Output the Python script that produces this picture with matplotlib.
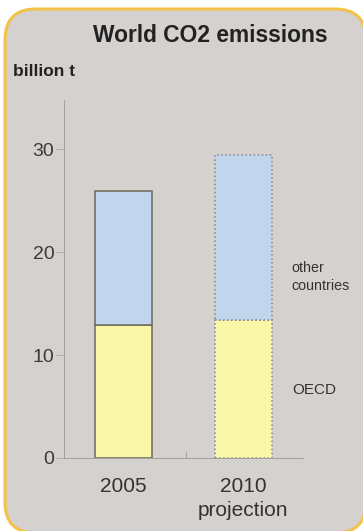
import numpy as np
import matplotlib.pyplot as plt
from matplotlib.patches import FancyBboxPatch

categories = ['2005', '2010\nprojection']
oecd = [12.9, 13.4]
other = [13.1, 16.1]
series_labels = ['OECD', 'other\ncountries']

W, H = 363, 531
fig = plt.figure(figsize=[W / 100, H / 100], dpi=100)
fig.patch.set_facecolor('white')
plt.rcParams['font.family'] = ['Liberation Sans', 'DejaVu Sans']

# rounded gold panel behind everything
panel = FancyBboxPatch((5 / W, 1 - 533 / H), 361 / W, 524 / H,
                       boxstyle='round,pad=0,rounding_size=0.085',
                       transform=fig.transFigure, facecolor='#d4d1ce',
                       edgecolor='#f4c24a', linewidth=2.2,
                       mutation_aspect=W / H, zorder=-5)
fig.patches.append(panel)

ax = fig.add_axes([64 / W, 1 - 458 / H, 239 / W, 358 / H])
ax.set_zorder(5)
ax.set_facecolor('none')

x = np.arange(len(categories))
yellow = '#fbf7a8'
blue = '#c1d5ec'
width = 0.475

# 2005: solid outline
ax.bar(x[0], oecd[0], width, color=yellow, edgecolor='#6b6a58', linewidth=1.1)
ax.bar(x[0], other[0], width, bottom=oecd[0], color=blue, edgecolor='#6b6a58', linewidth=1.1)
# 2010 projection: dotted outline
ax.bar(x[1], oecd[1], width, color=yellow, edgecolor='#7d8595', linewidth=1.1, linestyle=':')
ax.bar(x[1], other[1], width, bottom=oecd[1], color=blue, edgecolor='#7d8595', linewidth=1.1, linestyle=':')

ax.set_xlim(-0.5, 1.5)
ax.set_ylim(0, 34.8)
ax.set_yticks([0, 10, 20, 30])
ax.tick_params(axis='y', length=6, width=0.6, color='#aaa8a5', labelsize=14,
               labelcolor='#3a3a3a', pad=1)
ax.set_xticks([-0.5, 0.5, 1.5])
ax.set_xticklabels([])
ax.tick_params(axis='x', direction='in', length=0)
ax.set_xticks([-0.5, 0.5, 0.52, 1.5], minor=True)
ax.tick_params(axis='x', which='minor', direction='in', length=4, width=0.6, color='#9a9895')
for i, c in enumerate(categories):
    ax.text(x[i], -1.85, c, ha='center', va='top', fontsize=15, color='#333333',
            linespacing=1.3)

for s in ['top', 'right']:
    ax.spines[s].set_visible(False)
ax.spines['left'].set_color('#9a9895')
ax.spines['left'].set_linewidth(0.6)
ax.spines['bottom'].set_color('#9a9895')
ax.spines['bottom'].set_linewidth(0.6)

# series labels to the right of the projection bar
ax.text(1.4, oecd[1] + other[1] * 0.26, series_labels[1], ha='left', va='center',
        fontsize=10.3, color='#333333', linespacing=1.35)
ax.text(1.41, oecd[1] * 0.49, series_labels[0], ha='left', va='center',
        fontsize=11, color='#333333')

fig.text(210 / W, 1 - 36 / H, 'World CO2 emissions', ha='center', va='center',
         fontsize=16.4, fontweight='bold', color='#222222')
fig.text(13 / W, 1 - 72 / H, 'billion t', ha='left', va='center',
         fontsize=12.5, fontweight='bold', color='#222222')

plt.savefig('out.png', dpi=100)
